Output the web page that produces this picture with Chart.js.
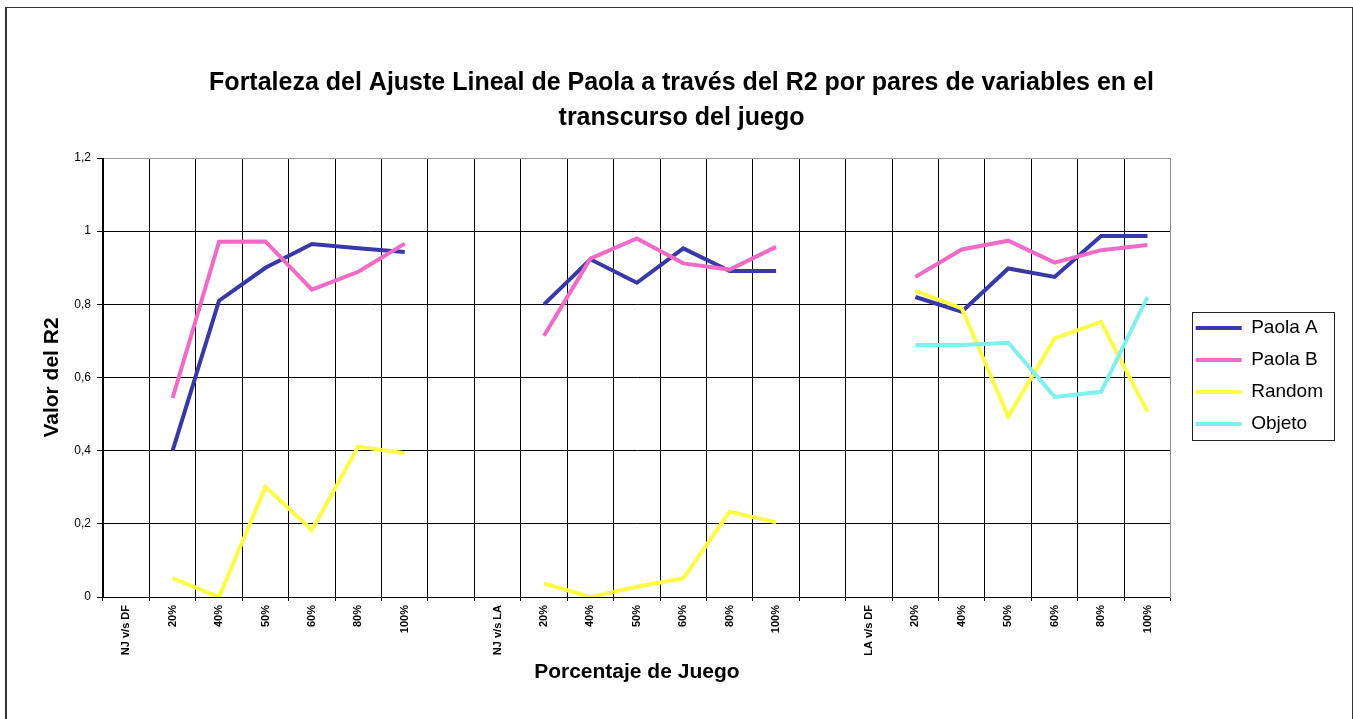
<!DOCTYPE html>
<html>
<head>
<meta charset="utf-8">
<script src="https://cdn.jsdelivr.net/npm/chart.js@4.4.1/dist/chart.umd.min.js"></script>
<style>
  body { margin: 0; background: #fff; }
  #frame { position: absolute; left: 5px; top: 7px; width: 1345px; height: 730px;
           border: 1px solid #333; border-left-width: 2px; }
  #myChart { position: absolute; left: 0; top: 0; }
</style>
</head>
<body>
<div id="frame"></div>
<canvas id="myChart" width="1353" height="719"></canvas>
<script>
const categories = ['NJ v/s DF', '20%', '40%', '50%', '60%', '80%', '100%', '',
  'NJ v/s LA', '20%', '40%', '50%', '60%', '80%', '100%', '',
  'LA v/s DF', '20%', '40%', '50%', '60%', '80%', '100%'];

const paolaA = [null, 0.40, 0.81, 0.90, 0.965, 0.953, 0.943, null,
  null, 0.80, 0.923, 0.859, 0.953, 0.891, 0.891, null,
  null, 0.82, 0.78, 0.898, 0.875, 0.987, 0.987];
const paolaB = [null, 0.544, 0.971, 0.972, 0.84, 0.889, 0.966, null,
  null, 0.714, 0.925, 0.98, 0.912, 0.895, 0.957, null,
  null, 0.875, 0.95, 0.974, 0.914, 0.948, 0.962];
const random = [null, 0.051, 0.0, 0.301, 0.183, 0.411, 0.393, null,
  null, 0.037, 0.0, 0.028, 0.051, 0.233, 0.204, null,
  null, 0.837, 0.789, 0.493, 0.707, 0.752, 0.506];
const objeto = [null, null, null, null, null, null, null, null,
  null, null, null, null, null, null, null, null,
  null, 0.689, 0.689, 0.695, 0.547, 0.561, 0.82];

const yTickLabels = ['0', '0,2', '0,4', '0,6', '0,8', '1', '1,2'];

const colA = '#3838a6';
const colB = '#f06ac6';
const colRandom = '#fbfb48';
const colObjeto = '#7ff0ec';

Chart.defaults.font.family = "'Liberation Sans', Arial, sans-serif";
Chart.defaults.color = '#000';

// frame around the legend, like the excel one
const legendBox = {
  id: 'legendBox',
  afterDraw(chart) {
    const lg = chart.legend;
    if (!lg || !lg.legendHitBoxes || !lg.legendHitBoxes.length) return;
    const hb = lg.legendHitBoxes;
    const l = Math.min(...hb.map(h => h.left)) - 4;
    const t = Math.min(...hb.map(h => h.top)) - 7;
    const r = Math.max(...hb.map(h => h.left + h.width)) + 11;
    const b = Math.max(...hb.map(h => h.top + h.height)) + 6;
    const c = chart.ctx;
    c.save();
    c.strokeStyle = '#222';
    c.lineWidth = 1;
    c.strokeRect(Math.round(l) + 0.5, Math.round(t) + 0.5, Math.round(r - l), Math.round(b - t));
    c.restore();
  }
};

function series(label, data, color, order) {
  return {
    label: label,
    data: data,
    borderColor: color,
    borderWidth: 4,
    pointBorderColor: color,
    pointBackgroundColor: color,
    pointBorderWidth: 4,
    order: order
  };
}

const ctx = document.getElementById('myChart');

new Chart(ctx, {
  type: 'line',
  data: {
    labels: categories,
    datasets: [
      series('Paola A', paolaA, colA, 4),
      series('Paola B', paolaB, colB, 3),
      series('Random', random, colRandom, 2),
      series('Objeto', objeto, colObjeto, 1)
    ]
  },
  options: {
    responsive: false,
    animation: false,
    spanGaps: false,
    layout: { padding: { left: 30, right: 20, top: 0, bottom: 0 } },
    elements: {
      line: { tension: 0, borderCapStyle: 'butt', borderJoinStyle: 'miter' },
      point: { radius: 0, hoverRadius: 0 }
    },
    plugins: {
      title: {
        display: true,
        text: ['Fortaleza del Ajuste Lineal de Paola a través del R2 por pares de variables en el',
               'transcurso del juego'],
        font: { size: 25, weight: 'bold', lineHeight: 35 / 25 },
        color: '#000',
        padding: { top: 66, bottom: 22 }
      },
      legend: {
        position: 'right',
        align: 'center',
        title: { display: true, text: ' ', padding: 0, font: { size: 33, lineHeight: 1 } },
        labels: {
          usePointStyle: true,
          pointStyle: 'line',
          pointStyleWidth: 46,
          font: { size: 19 },
          color: '#000',
          padding: 13,
          sort: (a, b) => a.datasetIndex - b.datasetIndex
        }
      },
      tooltip: { enabled: false }
    },
    scales: {
      x: {
        offset: true,
        grid: {
          offset: true,
          color: c => (c.tick ? '#000' : 'rgba(0,0,0,0)'),
          tickColor: '#000',
          tickLength: 4
        },
        border: { color: '#000' },
        ticks: {
          autoSkip: false,
          maxRotation: 90,
          minRotation: 90,
          padding: 4,
          font: { size: 11, weight: 'bold' },
          color: '#000'
        },
        title: {
          display: true,
          text: 'Porcentaje de Juego',
          font: { size: 21, weight: 'bold' },
          color: '#000',
          padding: { top: 0, bottom: 34 }
        },
        afterFit: s => { s.height = 122; }
      },
      y: {
        min: 0,
        max: 1.2,
        ticks: {
          stepSize: 0.2,
          padding: 6,
          font: { size: 12 },
          color: '#000',
          callback: (v, i) => yTickLabels[i]
        },
        grid: {
          color: c => (c.tick && c.tick.value > 1.1 ? '#999' : '#000'),
          tickColor: '#000',
          tickLength: 6
        },
        border: { color: '#000' },
        title: {
          display: true,
          text: 'Valor del R2',
          font: { size: 21, weight: 'bold' },
          color: '#000',
          padding: { top: 10, bottom: 0 }
        },
        afterFit: s => { s.width = 73; }
      },
      y2: {
        position: 'right',
        min: 0,
        max: 1.2,
        grid: { display: false },
        ticks: { display: false },
        border: { display: true, color: '#8a8a8a', dash: [2, 2] },
        afterFit: s => { s.width = 12; }
      }
    }
  },
  plugins: [legendBox]
});
</script>
</body>
</html>
